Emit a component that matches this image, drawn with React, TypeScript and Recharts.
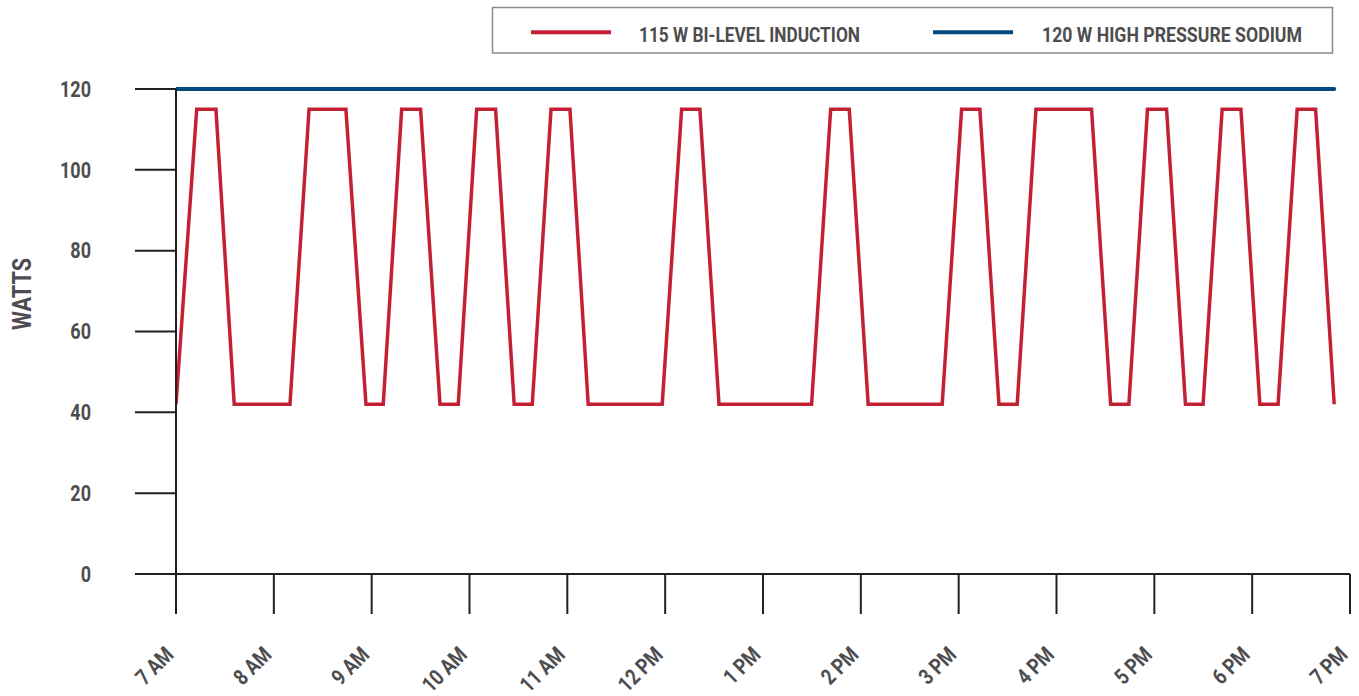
import { LineChart, Line, XAxis, YAxis } from 'recharts'

// minutes after 7 AM
const inductionTimes = [
  0, 12.7, 24.5, 35.7, 69.9, 81.6, 104.2, 116.5, 127.1, 138.4, 150, 161.9,
  173.1, 184.4, 196, 207.4, 218.5, 230, 241.6, 252.8, 298.2, 310.1, 321.3, 333,
  389.8, 401.5, 412.9, 424.5, 469.9, 481.8, 493, 504.7, 515.9, 527.4, 561.5,
  573.2, 584.4, 595.8, 607.5, 619.1, 629.9, 641.6, 653.1, 664.7, 675.9, 687.6,
  698.9, 710.3,
]
const inductionWatts = [
  42, 115, 115, 42, 42, 115, 115, 42, 42, 115, 115, 42, 42, 115, 115, 42, 42,
  115, 115, 42, 42, 115, 115, 42, 42, 115, 115, 42, 42, 115, 115, 42, 42, 115,
  115, 42, 42, 115, 115, 42, 42, 115, 115, 42, 42, 115, 115, 42,
]
const sodiumTimes = [0, 710.3]
const sodiumWatts = [120, 120]

const hourTicks = [0, 60, 120, 180, 240, 300, 360, 420, 480, 540, 600, 660, 720]
const hourLabels = [
  '7 AM', '8 AM', '9 AM', '10 AM', '11 AM', '12 PM', '1 PM', '2 PM', '3 PM',
  '4 PM', '5 PM', '6 PM', '7 PM',
]
const wattTicks = [0, 20, 40, 60, 80, 100, 120]

const induction = inductionTimes.map((t, i) => ({ t, w: inductionWatts[i] }))
const sodium = sodiumTimes.map((t, i) => ({ t, w: sodiumWatts[i] }))

const FONT = 'Roboto, sans-serif'
const NARROW = 0.82
const RED = '#C32034'
const BLUE = '#004A80'
const AXIS = '#231F20'
const TEXT = '#4D4D4F'

function HourTick({ x, y, payload }: any) {
  const idx = hourTicks.indexOf(payload.value)
  return (
    <text
      transform={`translate(${x - 1},${y + 42}) rotate(-45) scale(${NARROW},1)`}
      textAnchor="end"
      fill={TEXT}
      fontFamily={FONT}
      fontWeight="bold"
      fontSize={22}
    >
      {hourLabels[idx]}
    </text>
  )
}

function WattTick({ x, y, payload }: any) {
  return (
    <text
      transform={`translate(${x},${y + 7.8}) scale(${NARROW},1)`}
      textAnchor="end"
      fill={TEXT}
      fontFamily={FONT}
      fontWeight="bold"
      fontSize={22}
    >
      {payload.value}
    </text>
  )
}

function LegendBox() {
  const txt = { fill: TEXT, fontFamily: FONT, fontWeight: 'bold', fontSize: 21 } as const
  return (
    <svg
      width={1359}
      height={60}
      style={{ position: 'absolute', left: 0, top: 0, pointerEvents: 'none' }}
    >
      <rect x={492.5} y={7.5} width={840} height={45.5} fill="#fff" stroke="#8a8a8a" strokeWidth={1.5} />
      <line x1={531} x2={611} y1={32.3} y2={32.3} stroke={RED} strokeWidth={4} />
      <text x={639} y={42} textLength={221} lengthAdjust="spacingAndGlyphs" {...txt}>
        115 W BI-LEVEL INDUCTION
      </text>
      <line x1={933} x2={1013} y1={32.3} y2={32.3} stroke={BLUE} strokeWidth={4} />
      <text x={1042} y={42} textLength={260} lengthAdjust="spacingAndGlyphs" {...txt}>
        120 W HIGH PRESSURE SODIUM
      </text>
    </svg>
  )
}

export default function App() {
  return (
    <div style={{ position: 'absolute', left: 0, top: 0, width: 1359, height: 696 }}>
      <LineChart
        width={1359}
        height={696}
        margin={{ top: 89, right: 9, bottom: 0, left: 0 }}
      >
        <XAxis
          type="number"
          dataKey="t"
          domain={[0, 720]}
          ticks={hourTicks}
          allowDataOverflow
          height={122}
          tickSize={40}
          tickMargin={0}
          tick={<HourTick />}
          axisLine={{ stroke: AXIS, strokeWidth: 2 }}
          tickLine={{ stroke: AXIS, strokeWidth: 2 }}
          interval={0}
        />
        <YAxis
          type="number"
          dataKey="w"
          domain={[0, 120]}
          ticks={wattTicks}
          width={176}
          tickSize={41}
          tickMargin={44}
          axisLine={{ stroke: AXIS, strokeWidth: 2 }}
          tickLine={{ stroke: AXIS, strokeWidth: 2 }}
          tick={<WattTick />}
          interval={0}
        />
        <text
          transform="translate(31,294) rotate(-90)"
          textAnchor="middle"
          textLength={72}
          lengthAdjust="spacingAndGlyphs"
          fill={TEXT}
          fontFamily={FONT}
          fontWeight="bold"
          fontSize={26}
        >
          WATTS
        </text>
        <Line
          data={sodium}
          dataKey="w"
          stroke={BLUE}
          strokeWidth={4}
          strokeLinecap="round"
          dot={false}
          isAnimationActive={false}
          legendType="none"
        />
        <Line
          data={induction}
          dataKey="w"
          stroke={RED}
          strokeWidth={3.5}
          dot={false}
          isAnimationActive={false}
          legendType="none"
        />
      </LineChart>
      <LegendBox />
    </div>
  )
}
